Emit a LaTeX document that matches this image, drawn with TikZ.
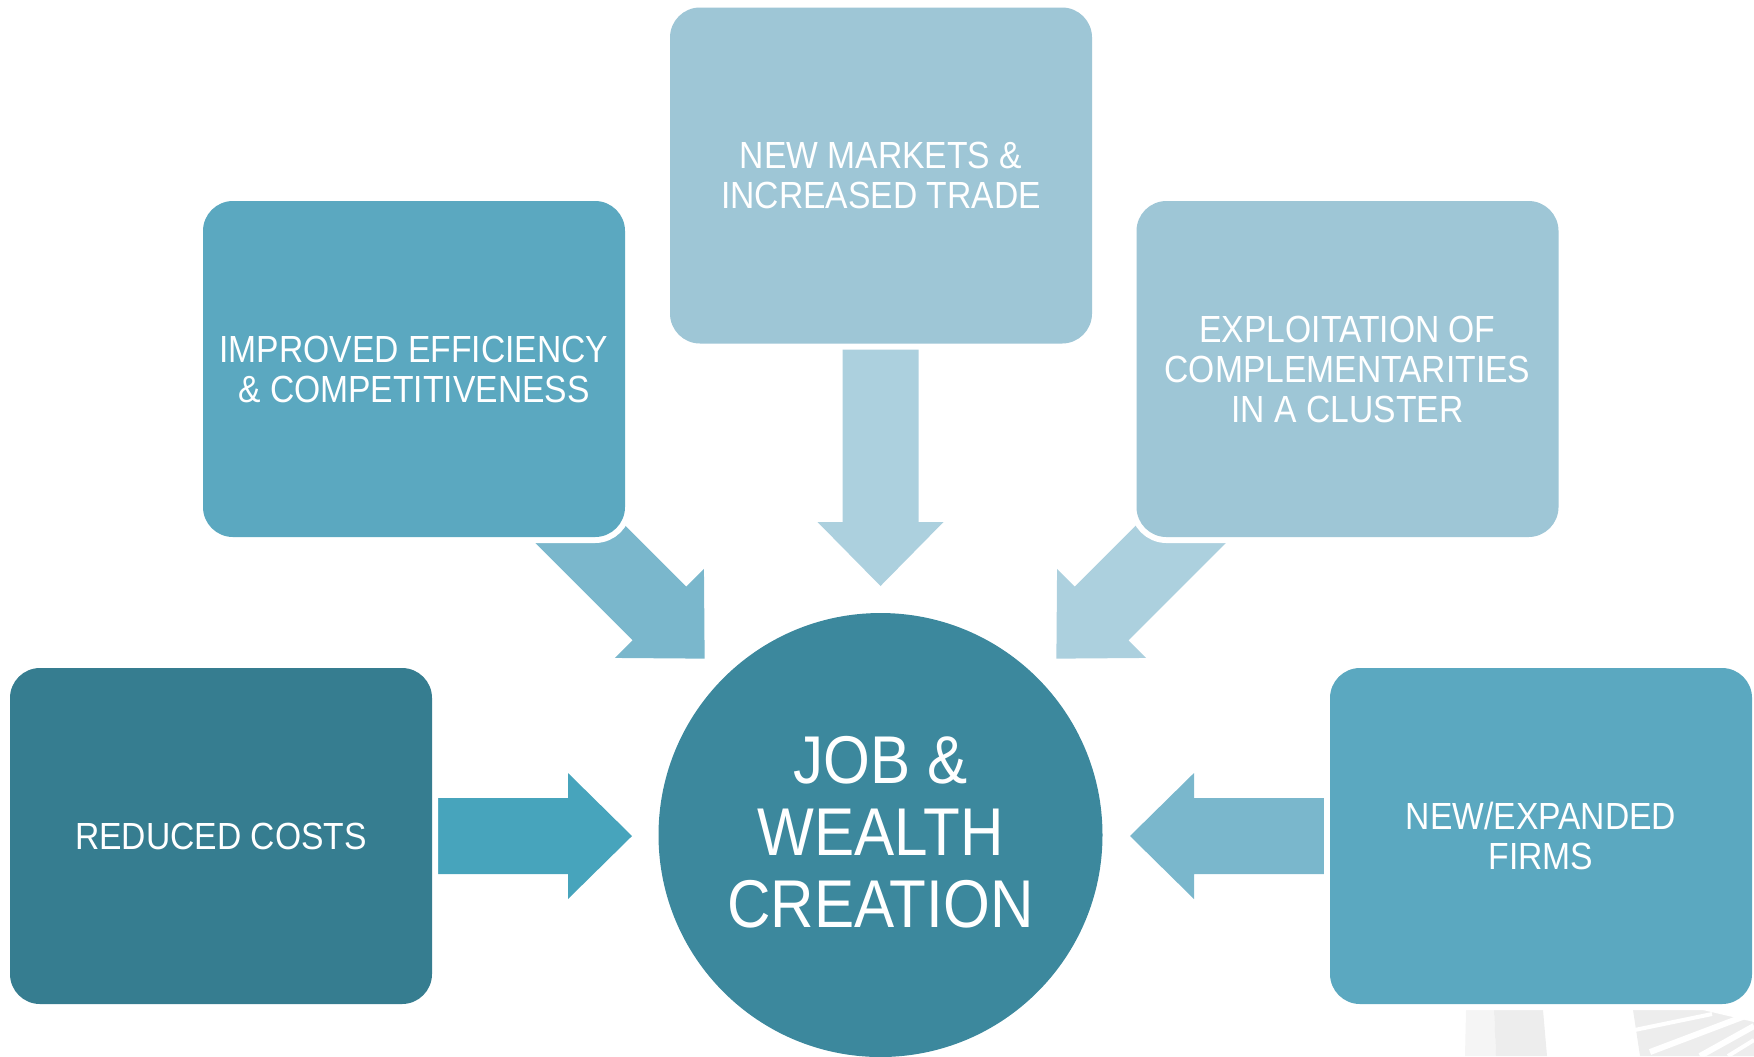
\documentclass[tikz,border=0pt]{standalone}
\usepackage{fontspec}
\newfontfamily\dfont{Liberation Sans}[FakeStretch=0.89]
\definecolor{boxdark}{HTML}{367D90}
\definecolor{circ}{HTML}{3C889D}
\definecolor{boxmid}{HTML}{5BA8C0}
\definecolor{boxlight}{HTML}{9EC6D6}
\definecolor{arrstrong}{HTML}{47A4BC}
\definecolor{arrmid}{HTML}{7AB7CC}
\definecolor{arrlight}{HTML}{ACD0DE}
\definecolor{wmA}{HTML}{F5F5F5}
\definecolor{wmB}{HTML}{EDEDED}
\newcommand{\blockarrow}[4]{% colour, tail coordinate, angle, length
  \begin{scope}[shift={(#2)}, rotate=#3]
    \fill[#1] (0,-38) -- (#4-64,-38) -- (#4-64,-63) -- (#4,0) -- (#4-64,63) -- (#4-64,38) -- (0,38) -- cycle;
  \end{scope}}
\tikzset{
  card/.style={rounded corners=15pt, minimum width=211pt, minimum height=168pt, inner sep=0pt,
    preaction={draw=white, line width=6pt}, text=white, align=center,
    font=\dfont\fontsize{18.9}{20}\selectfont},
  hub/.style={circle, minimum size=222pt, inner sep=0pt, fill=circ, text=white, align=center,
    font=\dfont\fontsize{33.8}{36}\selectfont}
}
\begin{document}
\begin{tikzpicture}[x=0.5pt, y=-0.5pt]
\useasboundingbox (0,0) rectangle (1754,1056);
% faint watermark
\fill[wmA] (1466,1010) -- (1494,1010) -- (1496,1056) -- (1465,1056) -- cycle;
\fill[wmB] (1494,1010) -- (1543,1010) -- (1547,1056) -- (1496,1056) -- cycle;
\fill[wmB] (1633,1010) -- (1754,1010) -- (1754,1056) -- (1640,1056) -- cycle;
\fill[white] (1703,1010) -- (1754,1010) -- (1754,1022) -- cycle;
\draw[white, line width=2pt] (1620,1033) -- (1712,1014);
\draw[white, line width=3pt] (1650,1052) -- (1745,1016);
\draw[white, line width=3pt] (1700,1056) -- (1754,1026);
\draw[white, line width=2pt] (1728,1056) -- (1754,1040);
% connector end points
\coordinate (tL) at (437,836);
\coordinate (tR) at (1324,836);
\coordinate (tT) at (880.5,340);
\coordinate (tUL) at (542,496);
\coordinate (tUR) at (1219,496);
% block arrows
\blockarrow{arrstrong}{tL}{0}{195}
\blockarrow{arrmid}{tR}{180}{194}
\blockarrow{arrlight}{tT}{-90}{246}
\blockarrow{arrmid}{tUL}{-45}{230}
\blockarrow{arrlight}{tUR}{-135}{230}
% boxes
\node[card, fill=boxmid] (improved) at (414,369) {IMPROVED EFFICIENCY\\\& COMPETITIVENESS};
\node[card, fill=boxlight] (markets) at (881,175.5) {NEW MARKETS \&\\INCREASED TRADE};
\node[card, fill=boxlight] (exploit) at (1347.5,369) {EXPLOITATION OF\\COMPLEMENTARITIES\\IN A CLUSTER};
\node[card, fill=boxdark] (reduced) at (221,836) {REDUCED COSTS};
\node[card, fill=boxmid] (firms) at (1541,836) {NEW/EXPANDED\\FIRMS};
\node[hub] (job) at (880.5,835) {};
\node[text=white, align=center, font=\dfont\fontsize{33.8}{36}\selectfont] (jobtext) at (880.5,832) {JOB \&\\WEALTH\\CREATION};
\end{tikzpicture}
\end{document}
